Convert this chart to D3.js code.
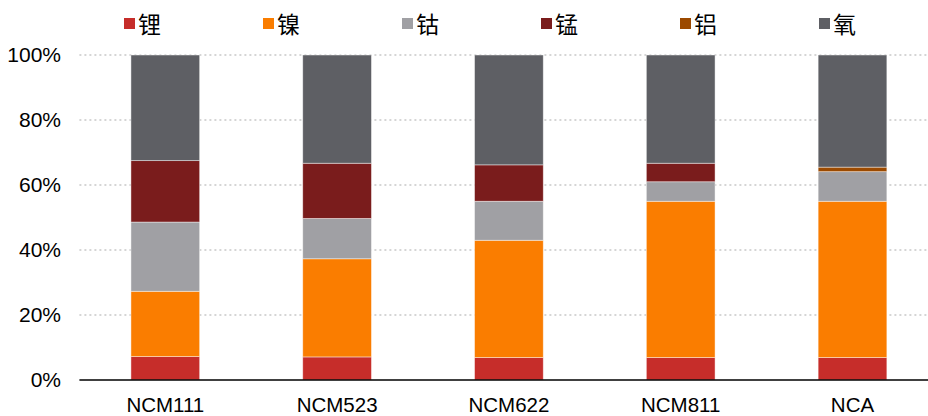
<!DOCTYPE html>
<html>
<head>
<meta charset="utf-8">
<script src="https://cdn.jsdelivr.net/npm/d3@7"></script>
<style>
  html, body { margin: 0; padding: 0; background: #fff; }
  svg { display: block; }
</style>
</head>
<body>
<div id="chart"></div>
<script>
// Chart data (percent by mass)
const categories = ["NCM111", "NCM523", "NCM622", "NCM811", "NCA"];
const elements = ["锂", "镍", "钴", "锰", "铝", "氧"];
const lithium   = [7.2, 7.1, 6.9, 6.9, 6.9];
const nickel    = [20.1, 30.2, 36.1, 48.1, 48.1];
const cobalt    = [21.3, 12.4, 12.0, 6.0, 9.1];
const manganese = [18.9, 17.0, 11.2, 5.7, 0];
const aluminium = [0, 0, 0, 0, 1.4];
const oxygen    = [32.5, 33.3, 33.8, 33.3, 34.5];
const yTicks = [0, 20, 40, 60, 80, 100];

const colors = ["#c62d2a", "#fa7d00", "#a0a0a4", "#7a1c1c", "#9c4a00", "#5e5f64"];

const width = 928, height = 416;
const margin = { left: 79.4, right: -10.4, top: 55, bottom: 36 };

const series = [lithium, nickel, cobalt, manganese, aluminium, oxygen];
const rows = categories.map((c, i) => {
    const row = { cat: c };
    elements.forEach((e, k) => row[e] = series[k][i]);
    return row;
});

const stacked = d3.stack().keys(elements)(rows);

const svg = d3.select("#chart").append("svg")
    .attr("width", width)
    .attr("height", height)
    .style("font-family", "'Liberation Sans', Arial, sans-serif");

const x = d3.scaleBand()
    .domain(categories)
    .range([margin.left, width - margin.right])
    .paddingInner(0.6)
    .paddingOuter(0.3);

const y = d3.scaleLinear()
    .domain([0, 100])
    .range([height - margin.bottom, margin.top]);

// Dotted gridlines
svg.append("g")
    .selectAll("line")
    .data(yTicks.filter(d => d > 0))
    .join("line")
    .attr("x1", margin.left)
    .attr("x2", width)
    .attr("y1", d => y(d))
    .attr("y2", d => y(d))
    .attr("stroke", "#c8c8c8")
    .attr("stroke-width", 1.5)
    .attr("stroke-dasharray", "2,3");

// Stacked bars
svg.append("g")
    .selectAll("g")
    .data(stacked)
    .join("g")
    .attr("fill", (d, i) => colors[i])
    .selectAll("rect")
    .data(d => d)
    .join("rect")
    .attr("x", d => x(d.data.cat))
    .attr("width", x.bandwidth())
    .attr("y", d => y(d[1]))
    .attr("height", d => y(d[0]) - y(d[1]))
    .attr("stroke", "rgba(255,255,255,0.55)")
    .attr("stroke-width", 0.8);

// Y axis labels
const yAxis = d3.axisLeft(y)
    .tickValues(yTicks)
    .tickFormat(d => d + "%")
    .tickSize(0)
    .tickPadding(0);

svg.append("g")
    .attr("transform", "translate(61,0)")
    .call(yAxis)
    .call(g => g.select(".domain").remove())
    .call(g => g.selectAll("text")
        .attr("font-size", 21)
        .attr("font-family", "'Liberation Sans', Arial, sans-serif")
        .attr("fill", "#000"));

// X axis baseline and labels
const xAxis = d3.axisBottom(x).tickSize(0).tickPadding(17.5);
svg.append("g")
    .attr("transform", `translate(0,${y(0)})`)
    .call(xAxis)
    .call(g => g.select(".domain").remove())
    .call(g => g.selectAll("text")
        .attr("font-size", 20.5)
        .attr("font-family", "'Liberation Sans', Arial, sans-serif")
        .attr("fill", "#000"));

svg.append("line")
    .attr("x1", margin.left)
    .attr("x2", width)
    .attr("y1", y(0))
    .attr("y2", y(0))
    .attr("stroke", "#000")
    .attr("stroke-width", 1.5);

// Legend
const legend = svg.append("g")
    .selectAll("g")
    .data(elements)
    .join("g")
    .attr("transform", (d, i) => `translate(${124 + i * 139},18)`);

legend.append("rect")
    .attr("width", 11)
    .attr("height", 11)
    .attr("fill", (d, i) => colors[i]);

legend.append("text")
    .attr("x", 14)
    .attr("y", 15)
    .attr("font-size", 23)
    .attr("font-family", "'Noto Sans CJK SC', sans-serif")
    .attr("fill", "#000")
    .text(d => d);
</script>
</body>
</html>
